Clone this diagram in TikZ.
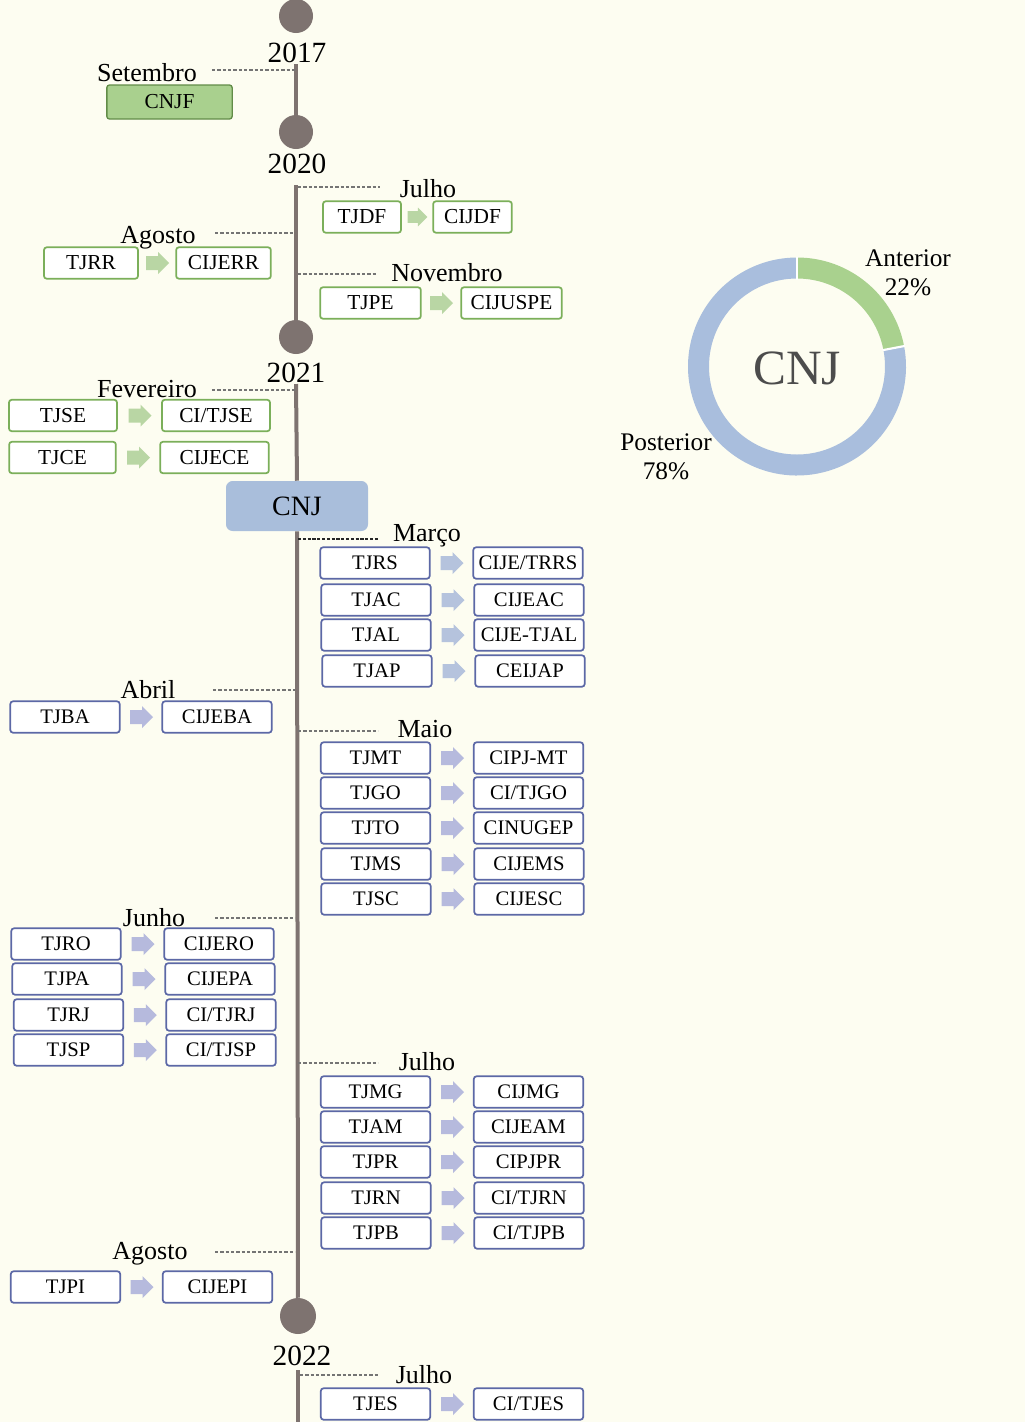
\documentclass[tikz,border=0pt]{standalone}
\usepackage{fontspec}
\setmainfont{Liberation Serif}
\usetikzlibrary{calc}
\definecolor{bg}{HTML}{FDFDF1}
\definecolor{gline}{HTML}{7BAF5A}
\definecolor{gfill}{HTML}{A9D08E}
\definecolor{garrow}{HTML}{B9D6A4}
\definecolor{bline}{HTML}{5C68A6}
\definecolor{barrow}{HTML}{B6BADD}
\definecolor{marrow}{HTML}{B5C3DD}
\definecolor{cnjfill}{HTML}{A9BEDB}
\definecolor{tline}{HTML}{7E7370}
\definecolor{ringblue}{HTML}{A9BEDD}
\definecolor{ringgreen}{HTML}{A9D18E}
\definecolor{dashc}{HTML}{747474}
\tikzset{
  box/.style={draw, line width=1.3pt, fill=white, rounded corners=2pt,
    minimum height=23.5pt, inner sep=0pt, font=\fontsize{15.5}{15.5}\selectfont},
  gbox/.style={box, draw=gline, font=\fontsize{16}{16}\selectfont},
  bbox/.style={box, draw=bline, minimum width=82pt},
  blk/.pic={\fill (-11,-7) -- (1,-7) -- (1,-11) -- (12,0) -- (1,11) -- (1,7) -- (-11,7) -- cycle;},
  yr/.style={anchor=base, inner sep=0pt, font=\fontsize{22}{22}\selectfont},
  mon/.style={anchor=base, inner sep=0pt, font=\fontsize{19.5}{19.5}\selectfont},
  dot/.style={circle, fill=tline, inner sep=0pt, minimum size=25.5pt},
  tl/.style={draw=tline, line width=3pt},
  dsh/.style={draw=dashc, line width=0.9pt, dash pattern=on 2.6pt off 1.4pt},
  dshk/.style={draw=black!85, line width=1.1pt, dash pattern=on 2.4pt off 1.2pt},
  lbl/.style={align=center, inner sep=0pt, font=\fontsize{19}{21.5}\selectfont}
}
\begin{document}
\begin{tikzpicture}[x=0.75pt,y=-0.75pt]
\fill[bg] (0,0) rectangle (1025,1422);
\useasboundingbox (0,0) rectangle (1025,1422);

% ---------- timeline ----------
\node[dot] (c2017) at (296,16) {};
\node[yr] (y2017) at (297,62) {2017};
\node[dot] (c2020) at (296,132) {};
\node[yr] (y2020) at (297,173) {2020};
\node[dot] (c2021) at (296,337) {};
\node[yr] (y2021) at (296,382) {2021};
\node[draw=none, fill=cnjfill, rounded corners=5pt, minimum width=106.5pt,
  minimum height=37.5pt, inner sep=0pt, font=\fontsize{21}{21}\selectfont] (cnj) at (297,506) {CNJ};
\node[dot, minimum size=27pt] (c2022) at (298,1316) {};
\node[yr] (y2022) at (302,1365) {2022};

\coordinate (t17) at (296,64);
\coordinate (t20) at (296,185);
\coordinate (t21) at (296,384);
\coordinate (t22) at (298,1370);
\coordinate (tend) at (298,1422);
\draw[tl] (t17) -- (c2020);
\draw[tl] (t20) -- (c2021);
\draw[tl] (t21) -- (cnj.north);
\draw[tl] (cnj.south) -- (c2022);
\draw[tl] (t22) -- (tend);

% ---------- 2017 ----------
\coordinate (dSetA) at (212,70); \coordinate (dSetB) at (295,70);
\draw[dsh] (dSetA) -- (dSetB);
\node[mon] (mSet) at (147,81) {Setembro};
\node[box, draw=gline!80!black, fill=gfill, minimum width=94pt, minimum height=25.5pt,
  line width=1pt, font=\fontsize{16}{16}\selectfont] (cnjf) at (169.5,102) {CNJF};

% ---------- 2020 ----------
\coordinate (dJul0A) at (298,187); \coordinate (dJul0B) at (380,187);
\draw[dsh] (dJul0A) -- (dJul0B);
\node[mon] (mJul0) at (428,197) {Julho};
\node[gbox, minimum width=58.5pt] (tjdf) at (362,217) {TJDF};
\node[gbox, minimum width=59pt] (cijdf) at (472.5,217) {CIJDF};
\pic[garrow, scale=0.85] at ($(tjdf.east)!0.5!(cijdf.west)$) {blk};

\coordinate (dAgo0A) at (215,233); \coordinate (dAgo0B) at (295,233);
\draw[dsh] (dAgo0A) -- (dAgo0B);
\node[mon] (mAgo0) at (158,243) {Agosto};
\node[gbox, minimum width=70.5pt] (tjrr) at (91,263) {TJRR};
\node[gbox, minimum width=71pt] (cijerr) at (223.5,263) {CIJERR};
\pic[garrow] at ($(tjrr.east)!0.5!(cijerr.west)$) {blk};

\coordinate (dNovA) at (298,274); \coordinate (dNovB) at (376,274);
\draw[dsh] (dNovA) -- (dNovB);
\node[mon] (mNov) at (447,281) {Novembro};
\node[gbox, minimum width=75.5pt] (tjpe) at (370.5,303) {TJPE};
\node[gbox, minimum width=75.5pt] (cijuspe) at (511.5,303) {CIJUSPE};
\pic[garrow] at ($(tjpe.east)!0.5!(cijuspe.west)$) {blk};

% ---------- 2021 ----------
\coordinate (dFevA) at (212,390); \coordinate (dFevB) at (295,390);
\draw[dsh] (dFevA) -- (dFevB);
\node[mon] (mFev) at (147,397) {Fevereiro};
\node[gbox, minimum width=81pt] (tjse) at (63,415.5) {TJSE};
\node[gbox, minimum width=81pt] (citjse) at (216,415.5) {CI/TJSE};
\pic[garrow] at ($(tjse.east)!0.5!(citjse.west)$) {blk};
\node[gbox, minimum width=80pt] (tjce) at (62.5,457.5) {TJCE};
\node[gbox, minimum width=81.5pt] (cijece) at (214.5,457.5) {CIJECE};
\pic[garrow] at ($(tjce.east)!0.5!(cijece.west)$) {blk};

% Marco
\coordinate (dMarA) at (298,539); \coordinate (dMarB) at (378,539);
\draw[dshk] (dMarA) -- (dMarB);
\node[mon] (mMar) at (427,541) {Março};
\node[bbox] (tjrs) at (375,563) {TJRS};
\node[bbox] (cijetrrs) at (528,563) {CIJE/TRRS};
\pic[marrow] at ($(tjrs.east)!0.5!(cijetrrs.west)$) {blk};
\node[bbox] (tjac) at (376,600) {TJAC};
\node[bbox] (cijeac) at (529,600) {CIJEAC};
\pic[marrow] at ($(tjac.east)!0.5!(cijeac.west)$) {blk};
\node[bbox] (tjal) at (376,635) {TJAL};
\node[bbox] (cijetjal) at (529,635) {CIJE-TJAL};
\pic[marrow] at ($(tjal.east)!0.5!(cijetjal.west)$) {blk};
\node[bbox] (tjap) at (377,671) {TJAP};
\node[bbox] (ceijap) at (530,671) {CEIJAP};
\pic[marrow] at ($(tjap.east)!0.5!(ceijap.west)$) {blk};

% Abril
\coordinate (dAbrA) at (213,690); \coordinate (dAbrB) at (295,690);
\draw[dsh] (dAbrA) -- (dAbrB);
\node[mon] (mAbr) at (148,698) {Abril};
\node[bbox] (tjba) at (65,717) {TJBA};
\node[bbox] (cijeba) at (217,717) {CIJEBA};
\pic[barrow] at ($(tjba.east)!0.5!(cijeba.west)$) {blk};

% Maio
\coordinate (dMaiA) at (298,731); \coordinate (dMaiB) at (378,731);
\draw[dsh] (dMaiA) -- (dMaiB);
\node[mon] (mMai) at (425,737) {Maio};
\node[bbox] (tjmt) at (375.5,758) {TJMT};
\node[bbox] (cipjmt) at (528.5,758) {CIPJ-MT};
\pic[barrow] at ($(tjmt.east)!0.5!(cipjmt.west)$) {blk};
\node[bbox] (tjgo) at (375.5,793) {TJGO};
\node[bbox] (citjgo) at (528.5,793) {CI/TJGO};
\pic[barrow] at ($(tjgo.east)!0.5!(citjgo.west)$) {blk};
\node[bbox] (tjto) at (375.5,828) {TJTO};
\node[bbox] (cinugep) at (528.5,828) {CINUGEP};
\pic[barrow] at ($(tjto.east)!0.5!(cinugep.west)$) {blk};
\node[bbox] (tjms) at (376,864) {TJMS};
\node[bbox] (cijems) at (529,864) {CIJEMS};
\pic[barrow] at ($(tjms.east)!0.5!(cijems.west)$) {blk};
\node[bbox] (tjsc) at (376,899) {TJSC};
\node[bbox] (cijesc) at (529,899) {CIJESC};
\pic[barrow] at ($(tjsc.east)!0.5!(cijesc.west)$) {blk};

% Junho
\coordinate (dJunA) at (215,918); \coordinate (dJunB) at (295,918);
\draw[dsh] (dJunA) -- (dJunB);
\node[mon] (mJun) at (154,926) {Junho};
\node[bbox] (tjro) at (66,944) {TJRO};
\node[bbox] (cijero) at (219,944) {CIJERO};
\pic[barrow] at ($(tjro.east)!0.5!(cijero.west)$) {blk};
\node[bbox] (tjpa) at (67,979) {TJPA};
\node[bbox] (cijepa) at (220,979) {CIJEPA};
\pic[barrow] at ($(tjpa.east)!0.5!(cijepa.west)$) {blk};
\node[bbox] (tjrj) at (68.5,1015) {TJRJ};
\node[bbox] (citjrj) at (221,1015) {CI/TJRJ};
\pic[barrow] at ($(tjrj.east)!0.5!(citjrj.west)$) {blk};
\node[bbox] (tjsp) at (68.5,1050) {TJSP};
\node[bbox] (citjsp) at (221,1050) {CI/TJSP};
\pic[barrow] at ($(tjsp.east)!0.5!(citjsp.west)$) {blk};

% Julho 2021
\coordinate (dJul1A) at (298,1063); \coordinate (dJul1B) at (378,1063);
\draw[dsh] (dJul1A) -- (dJul1B);
\node[mon] (mJul1) at (427,1070) {Julho};
\node[bbox] (tjmg) at (375.5,1092) {TJMG};
\node[bbox] (cijmg) at (528.5,1092) {CIJMG};
\pic[barrow] at ($(tjmg.east)!0.5!(cijmg.west)$) {blk};
\node[bbox] (tjam) at (375.5,1127) {TJAM};
\node[bbox] (cijeam) at (528.5,1127) {CIJEAM};
\pic[barrow] at ($(tjam.east)!0.5!(cijeam.west)$) {blk};
\node[bbox] (tjpr) at (375.5,1162) {TJPR};
\node[bbox] (cipjpr) at (528.5,1162) {CIPJPR};
\pic[barrow] at ($(tjpr.east)!0.5!(cipjpr.west)$) {blk};
\node[bbox] (tjrn) at (376,1198) {TJRN};
\node[bbox] (citjrn) at (529,1198) {CI/TJRN};
\pic[barrow] at ($(tjrn.east)!0.5!(citjrn.west)$) {blk};
\node[bbox] (tjpb) at (376,1233) {TJPB};
\node[bbox] (citjpb) at (529,1233) {CI/TJPB};
\pic[barrow] at ($(tjpb.east)!0.5!(citjpb.west)$) {blk};

% Agosto 2021
\coordinate (dAgo1A) at (215,1252); \coordinate (dAgo1B) at (295,1252);
\draw[dsh] (dAgo1A) -- (dAgo1B);
\node[mon] (mAgo1) at (150,1259) {Agosto};
\node[bbox] (tjpi) at (65.5,1287) {TJPI};
\node[bbox] (cijepi) at (217.5,1287) {CIJEPI};
\pic[barrow] at ($(tjpi.east)!0.5!(cijepi.west)$) {blk};

% ---------- 2022 ----------
\coordinate (dJul2A) at (300,1375); \coordinate (dJul2B) at (378,1375);
\draw[dsh] (dJul2A) -- (dJul2B);
\node[mon] (mJul2) at (424,1383) {Julho};
\node[bbox] (tjes) at (375.5,1404) {TJES};
\node[bbox] (citjes) at (528.5,1404) {CI/TJES};
\pic[barrow] at ($(tjes.east)!0.5!(citjes.west)$) {blk};

% ---------- donut ----------
\coordinate (dc) at (797,366.5);
\fill[ringgreen] ($(dc)+(-90:109)$) arc[start angle=-90, end angle=-10.8, radius=109]
  -- ($(dc)+(-10.8:88)$) arc[start angle=-10.8, end angle=-90, radius=88] -- cycle;
\fill[ringblue] ($(dc)+(-10.8:109)$) arc[start angle=-10.8, end angle=270, radius=109]
  -- ($(dc)+(270:88)$) arc[start angle=270, end angle=-10.8, radius=88] -- cycle;
\draw[white, line width=1.6pt] ($(dc)+(-90:87)$) -- ($(dc)+(-90:110)$);
\draw[white, line width=1.6pt] ($(dc)+(-10.8:87)$) -- ($(dc)+(-10.8:110)$);
\node[inner sep=0pt, text=black!70, font=\fontsize{37}{37}\selectfont] (dcnj) at (797,368) {CNJ};
\node[lbl] (ant) at (908,273) {Anterior\\22\%};
\node[lbl] (post) at (666,457) {Posterior\\78\%};
\end{tikzpicture}
\end{document}
